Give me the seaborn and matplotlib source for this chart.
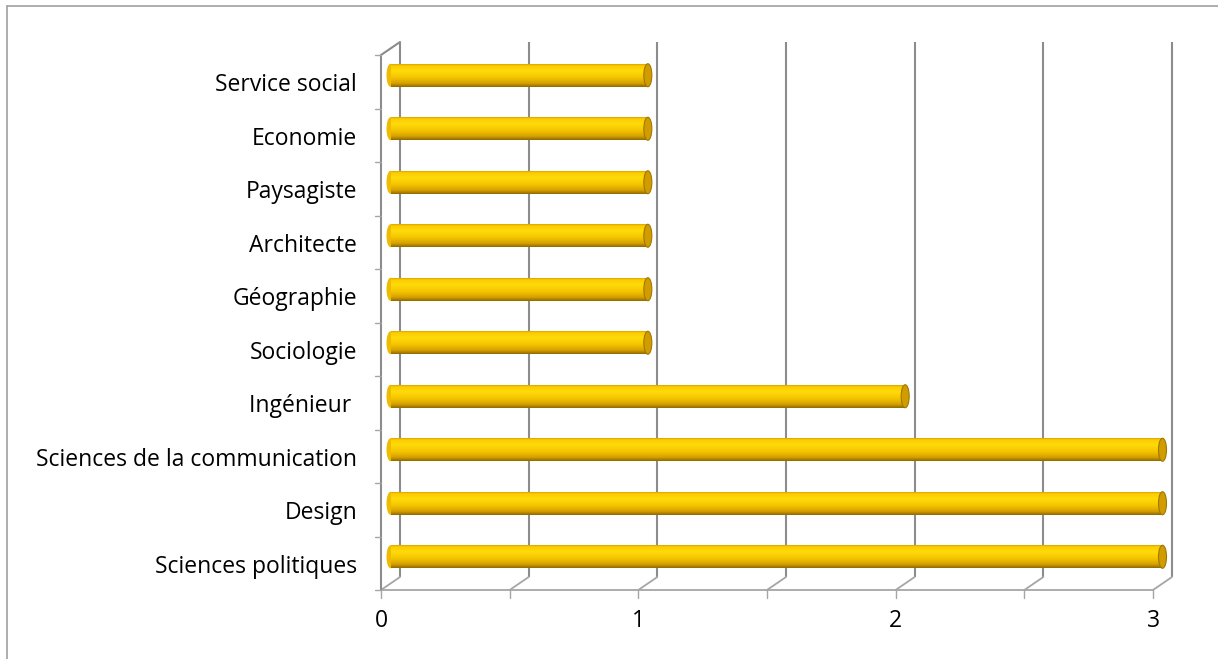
import numpy as np
import pandas as pd
import seaborn as sns
import matplotlib.pyplot as plt
from matplotlib.patches import Ellipse
from matplotlib.lines import Line2D
from matplotlib.colors import LinearSegmentedColormap

# données du graphique
categories = ['Service social', 'Economie', 'Paysagiste', 'Architecte', 'Géographie',
              'Sociologie', 'Ingénieur ', 'Sciences de la communication', 'Design',
              'Sciences politiques']
values = [1, 1, 1, 1, 1, 1, 2, 3, 3, 3]
x_ticks = [0, 1, 2, 3]
grid_steps = [0, 0.5, 1, 1.5, 2, 2.5, 3]

sns.set_theme(style='white')
plt.rcParams['font.family'] = ['Open Sans', 'DejaVu Sans']

W, H = 1218, 659
fig = plt.figure(figsize=(W / 100, H / 100), dpi=100)
# axe du plan médian (là où sont les cylindres)
ax = fig.add_axes([390.5 / W, 1 - 583.5 / H, 772 / W, 535 / H])

df = pd.DataFrame({'cat': categories, 'val': values})
sns.barplot(data=df, x='val', y='cat', color='#FFD000', width=0.43,
            saturation=1, ax=ax, zorder=3)

# décalage de la perspective (avant / arrière), en unités de données
dx = 9.5 / (772 / 3)
dy = 6.5 / 53.5
y_top, y_bot = -0.5, 9.5
grid_c = '#8c8c8c'
light_c = '#a6a6a6'

# mur du fond : lignes verticales
for g in grid_steps:
    ax.plot([g + dx, g + dx], [y_top - dy, y_bot - dy], color=grid_c, lw=1.5,
            zorder=1, clip_on=False, solid_capstyle='butt')
    # diagonales du sol
    ax.plot([g - dx, g + dx], [y_bot + dy, y_bot - dy], color=light_c, lw=1.3,
            zorder=1, clip_on=False)
    # graduations sous le sol
    ax.plot([g - dx, g - dx], [y_bot + dy, y_bot + dy + 0.15], color=light_c,
            lw=1, zorder=1, clip_on=False)
# bord avant du sol
ax.plot([-dx, 3 - dx], [y_bot + dy, y_bot + dy], color=light_c, lw=1.3,
        zorder=1, clip_on=False)
# mur gauche
ax.plot([-dx, -dx], [y_top + dy, y_bot + dy], color=grid_c, lw=1.5, zorder=1,
        clip_on=False)
ax.plot([-dx, dx], [y_top + dy, y_top - dy], color=grid_c, lw=1.5, zorder=1,
        clip_on=False)
for k in range(len(categories) + 1):
    yy = y_top + k + dy
    ax.plot([-dx - 0.025, -dx], [yy, yy], color=light_c, lw=1, zorder=1,
            clip_on=False)

# cylindres : dégradé + extrémités
cmap = LinearSegmentedColormap.from_list('cyl', [
    (0.0, '#C08C00'), (0.1, '#FCCB00'), (0.32, '#FFDB0A'),
    (0.6, '#F5C500'), (0.85, '#D6A000'), (1.0, '#8E6A00')])
grad = np.linspace(0, 1, 64).reshape(-1, 1)
cap_w = 8 / (772 / 3)
for p in list(ax.patches):
    x0, y0, w, h = p.get_x(), p.get_y(), p.get_width(), p.get_height()
    ax.add_patch(Ellipse((x0, y0 + h / 2), cap_w, h, facecolor='#EDBC00',
                         edgecolor='none', zorder=2.9, clip_on=False))
    im = ax.imshow(grad, cmap=cmap, aspect='auto', extent=(x0, x0 + w, y0 + h, y0),
                   origin='upper', zorder=3.1, interpolation='bilinear')
    im.set_clip_path(p)
    ax.add_patch(Ellipse((x0 + w, y0 + h / 2), cap_w, h, facecolor='#D09C00',
                         edgecolor='#A07800', lw=0.8, zorder=3.2, clip_on=False))
    p.set_edgecolor('none')
    p.set_clip_on(False)

ax.set_xlim(0, 3)
ax.set_ylim(y_bot, y_top)
ax.axis('off')

# libellés des catégories (plan avant)
lab_x = (357 - 390.5) / (772 / 3)
for i, c in enumerate(categories):
    ax.text(lab_x, i + dy + 0.07, c, ha='right', va='center', fontsize=16.5,
            color='black', clip_on=False)
# valeurs de l'axe x
for t in x_ticks:
    ax.text(t - dx, y_bot + dy + 0.58, str(t), ha='center', va='center',
            fontsize=16.5, color='black', clip_on=False)

# cadre du graphique
fig.add_artist(Line2D([7 / W, 1], [1 - 6 / H, 1 - 6 / H], color='#a0a0a0', lw=1.2))
fig.add_artist(Line2D([7 / W, 7 / W], [0, 1 - 6 / H], color='#a0a0a0', lw=1.2))

fig.savefig('out.png', dpi=100, facecolor='white')
